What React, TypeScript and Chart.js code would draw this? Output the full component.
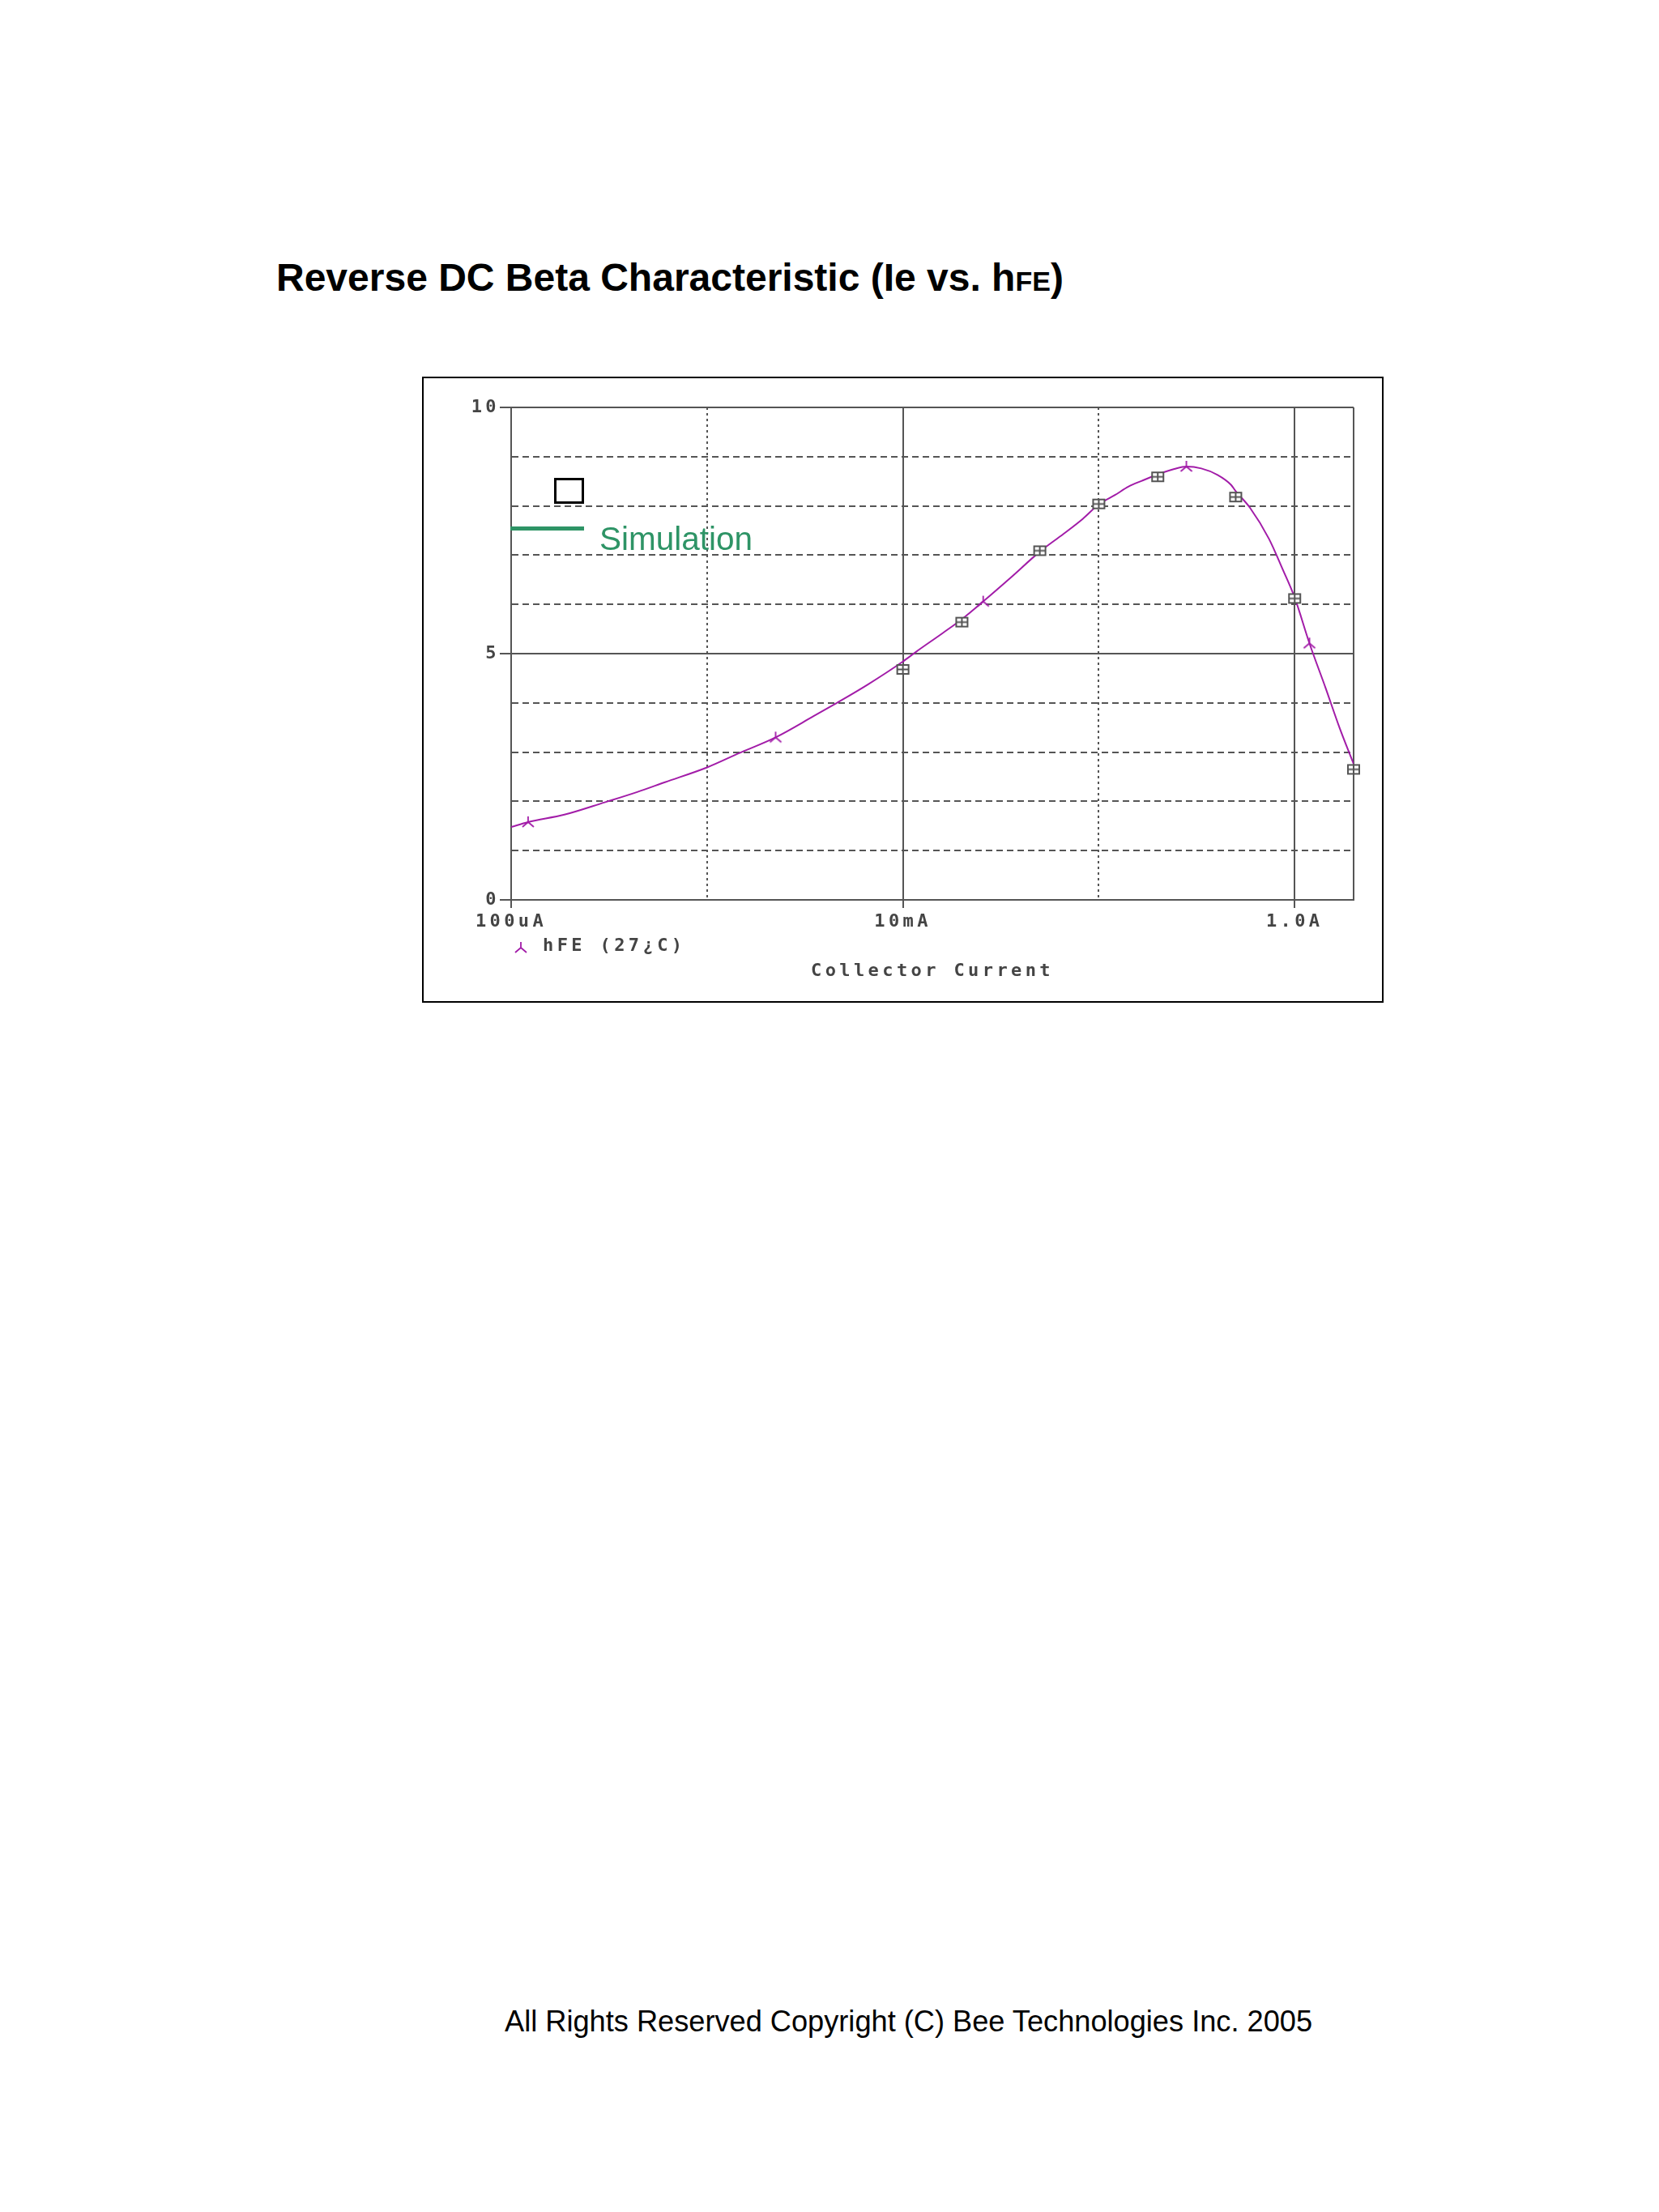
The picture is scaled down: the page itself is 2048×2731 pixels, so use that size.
import { useEffect, useRef } from 'react';
import { Chart, registerables } from 'chart.js';

Chart.register(...registerables);

// simulated hFE curve (Collector current in A)
const simCurrent = [
  1e-4, 1.22e-4, 1.87e-4, 3.0e-4, 4.4e-4, 6.1e-4, 1e-3, 1.44e-3, 2.24e-3, 3.5e-3,
  4.6e-3, 6.6e-3, 1e-2, 1.17e-2, 1.6e-2, 2.0e-2, 2.57e-2, 3.52e-2, 5.0e-2, 6.6e-2,
  8.3e-2, 0.1, 0.121, 0.1415, 0.166, 0.2, 0.243, 0.28, 0.334, 0.404,
  0.473, 0.5, 0.592, 0.74, 0.867, 1.0, 1.19, 1.44, 1.69, 2.0,
];
const simHfe = [
  1.48, 1.58, 1.73, 1.98, 2.19, 2.39, 2.69, 2.97, 3.3, 3.73,
  4.0, 4.37, 4.84, 5.04, 5.42, 5.7, 6.06, 6.53, 7.07, 7.43,
  7.74, 8.03, 8.22, 8.39, 8.51, 8.64, 8.75, 8.8, 8.76, 8.63,
  8.43, 8.3, 7.96, 7.33, 6.72, 6.14, 5.21, 4.3, 3.51, 2.76,
];

// trace markers on the simulated curve
const markCurrent = [1.22e-4, 2.24e-3, 2.57e-2, 0.28, 1.19];
const markHfe = [1.58, 3.3, 6.06, 8.8, 5.21];

// measured points (squares)
const measCurrent = [0.01, 0.02, 0.05, 0.1, 0.2, 0.5, 1, 2];
const measHfe = [4.68, 5.64, 7.09, 8.04, 8.59, 8.18, 6.12, 2.65];

const xMin = 1e-4;
const xMax = 2;
const xMajorTicks = [1e-4, 1e-2, 1];
const xMajorLabels = ['100uA', '10mA', '1.0A'];
const xMinorTicks = [1e-3, 0.1];
const yMajorTicks = [0, 5, 10];
const yMinorTicks = [1, 2, 3, 4, 6, 7, 8, 9];

const GRID = '#555555';
const TEXT = '#444444';
const TRACE = '#a21ca8';
const MONO = { family: '"DejaVu Sans Mono", monospace', size: 22, weight: 'bold' as const, lineHeight: 1.2 };

const same = (a: number, b: number) => Math.abs(a - b) <= Math.abs(b) * 1e-6 + 1e-9;
const inList = (v: number, list: number[]) => list.some((t) => same(v, t));

function makeTriMarker() {
  const c = document.createElement('canvas');
  c.width = 20;
  c.height = 20;
  const g = c.getContext('2d')!;
  g.strokeStyle = TRACE;
  g.lineWidth = 1.8;
  g.beginPath();
  g.moveTo(10, 10);
  g.lineTo(10, 3);
  g.moveTo(10, 10);
  g.lineTo(3, 16);
  g.moveTo(10, 10);
  g.lineTo(17, 16);
  g.stroke();
  return c;
}

function makeBoxMarker() {
  const c = document.createElement('canvas');
  c.width = 18;
  c.height = 15;
  const g = c.getContext('2d')!;
  g.fillStyle = '#ffffff';
  g.fillRect(1, 1, 16, 13);
  g.strokeStyle = GRID;
  g.lineWidth = 2;
  g.strokeRect(2, 2, 14, 11);
  g.beginPath();
  g.moveTo(9, 2);
  g.lineTo(9, 13);
  g.moveTo(2, 7.5);
  g.lineTo(16, 7.5);
  g.stroke();
  return c;
}

const spacingPlugin = {
  id: 'monoSpacing',
  beforeDraw(chart: Chart) {
    (chart.ctx as any).letterSpacing = '4.4px';
  },
  beforeDatasetsDraw(chart: Chart) {
    (chart.ctx as any).letterSpacing = '0px';
  },
};

function BetaChart() {
  const canvasRef = useRef<HTMLCanvasElement>(null);

  useEffect(() => {
    if (!canvasRef.current) return;
    const chart = new Chart(canvasRef.current, {
      type: 'scatter',
      data: {
        datasets: [
          {
            label: 'Measurement',
            data: measCurrent.map((x, i) => ({ x, y: measHfe[i] })),
            pointStyle: makeBoxMarker(),
            pointRadius: 8,
            showLine: false,
            clip: false,
          },
          {
            label: 'hFE marks',
            data: markCurrent.map((x, i) => ({ x, y: markHfe[i] })),
            pointStyle: makeTriMarker(),
            pointRadius: 8,
            showLine: false,
            clip: false,
          },
          {
            label: 'hFE (27C)',
            data: simCurrent.map((x, i) => ({ x, y: simHfe[i] })),
            showLine: true,
            borderColor: TRACE,
            borderWidth: 2,
            pointRadius: 0,
            cubicInterpolationMode: 'monotone',
          },
        ],
      },
      options: {
        animation: false,
        responsive: false,
        devicePixelRatio: 1,
        layout: { padding: { top: 36, right: 35, left: 0, bottom: 0 } },
        plugins: { legend: { display: false }, tooltip: { enabled: false } },
        scales: {
          x: {
            type: 'logarithmic',
            min: xMin,
            max: xMax,
            afterBuildTicks: (s: any) => {
              s.ticks = [...xMajorTicks, ...xMinorTicks, xMax].sort((a, b) => a - b).map((v) => ({ value: v }));
            },
            afterFit: (s: any) => {
              s.height = 125;
            },
            ticks: {
              autoSkip: false,
              maxRotation: 0,
              padding: 4,
              color: TEXT,
              font: MONO,
              callback: (v: any) => {
                const i = xMajorTicks.findIndex((t) => same(Number(v), t));
                return i >= 0 ? xMajorLabels[i] : '';
              },
            },
            grid: {
              color: GRID,
              lineWidth: 2,
              tickLength: 10,
              tickWidth: 2,
              tickColor: (c: any) => (c.tick && inList(c.tick.value, xMajorTicks) ? GRID : 'rgba(0,0,0,0)'),
            },
            border: {
              display: true,
              color: GRID,
              width: 2,
              dash: (c: any) => (c.tick && inList(c.tick.value, xMinorTicks) ? [3, 4] : []),
            },
            title: {
              display: true,
              text: 'Collector Current',
              color: TEXT,
              font: MONO,
              padding: { top: 0, bottom: 24 },
            },
          },
          y: {
            type: 'linear',
            min: 0,
            max: 10,
            afterBuildTicks: (s: any) => {
              s.ticks = [...yMajorTicks, ...yMinorTicks].sort((a, b) => a - b).map((v) => ({ value: v }));
            },
            afterFit: (s: any) => {
              s.width = 108;
            },
            ticks: {
              autoSkip: false,
              padding: 0,
              color: TEXT,
              font: MONO,
              callback: (v: any) => (inList(Number(v), yMajorTicks) ? String(v) : ''),
            },
            grid: {
              color: GRID,
              lineWidth: 2,
              tickLength: 14,
              tickWidth: 2,
              tickColor: (c: any) => (c.tick && inList(c.tick.value, yMajorTicks) ? GRID : 'rgba(0,0,0,0)'),
            },
            border: {
              display: true,
              color: GRID,
              width: 2,
              dash: (c: any) => (c.tick && inList(c.tick.value, yMinorTicks) ? [8, 5] : []),
            },
          },
        },
      } as any,
      plugins: [spacingPlugin],
    });
    return () => chart.destroy();
  }, []);

  return <canvas ref={canvasRef} width={1183} height={769} style={{ display: 'block' }} />;
}

export default function App() {
  const sans = '"Liberation Sans", Arial, Helvetica, sans-serif';
  const mono = '"DejaVu Sans Mono", monospace';
  return (
    <div style={{ position: 'absolute', left: 0, top: 0, width: 2048, height: 2731, background: '#ffffff', overflow: 'hidden' }}>
      <div
        style={{
          position: 'absolute',
          left: 341,
          top: 319,
          font: `bold 48px ${sans}`,
          lineHeight: '48px',
          whiteSpace: 'nowrap',
          color: '#000',
        }}
      >
        Reverse DC Beta Characteristic (Ie vs. h<span style={{ fontSize: 34 }}>FE</span>)
      </div>

      <div
        style={{
          position: 'absolute',
          left: 521,
          top: 465,
          width: 1187,
          height: 773,
          border: '2px solid #000',
          boxSizing: 'border-box',
        }}
      >
        <BetaChart />
      </div>

      {/* legend drawn over the plot */}
      <div style={{ position: 'absolute', left: 684, top: 590, width: 37, height: 32, border: '3px solid #000', boxSizing: 'border-box' }} />
      <div style={{ position: 'absolute', left: 630, top: 650, width: 91, height: 5, background: '#2e9466' }} />
      <div
        style={{
          position: 'absolute',
          left: 740,
          top: 645,
          font: `40.5px ${sans}`,
          lineHeight: '40px',
          color: '#2e9466',
          whiteSpace: 'nowrap',
        }}
      >
        Simulation
      </div>

      <svg style={{ position: 'absolute', left: 633, top: 1160 }} width={20} height={20}>
        <path d="M10 10 L10 3 M10 10 L3 16 M10 10 L17 16" stroke={TRACE} strokeWidth={1.8} fill="none" />
      </svg>
      <div
        style={{
          position: 'absolute',
          left: 670,
          top: 1156,
          font: `bold 22px ${mono}`,
          lineHeight: '22px',
          letterSpacing: '4.4px',
          color: TEXT,
          whiteSpace: 'nowrap',
        }}
      >
        hFE (27¿C)
      </div>

      <div
        style={{
          position: 'absolute',
          left: 623,
          top: 2478,
          font: `36.2px ${sans}`,
          lineHeight: '36px',
          color: '#000',
          whiteSpace: 'nowrap',
        }}
      >
        All Rights Reserved Copyright (C) Bee Technologies Inc. 2005
      </div>
    </div>
  );
}
